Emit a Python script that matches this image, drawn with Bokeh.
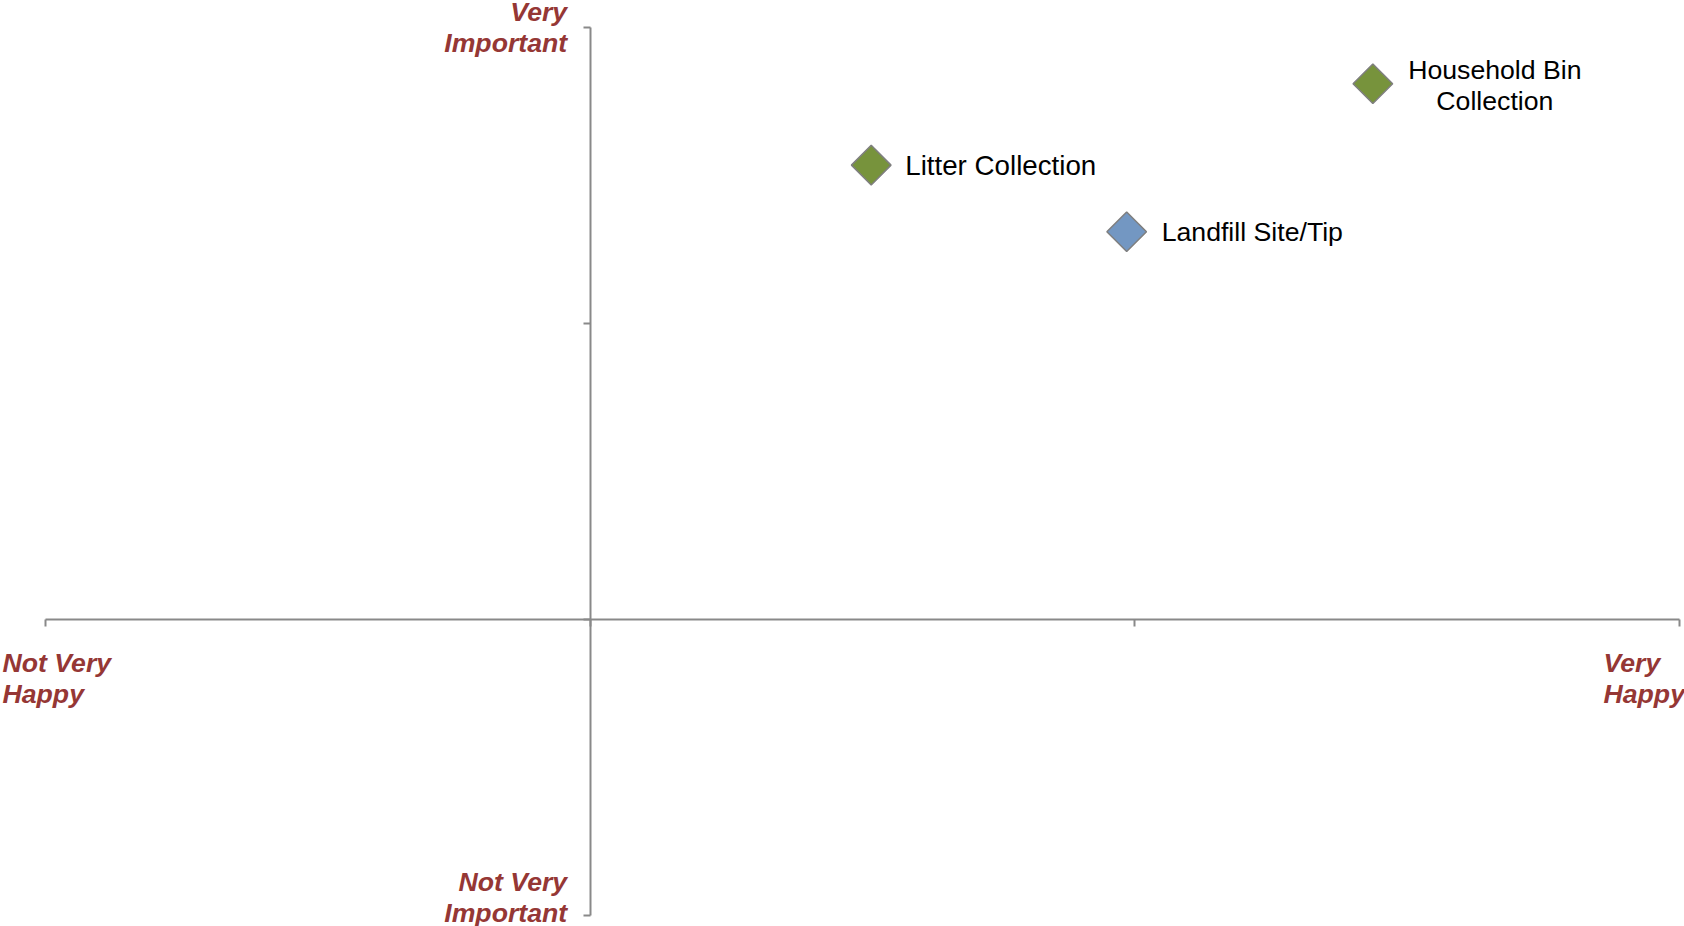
import numpy as np
from bokeh.plotting import figure
from bokeh.models import Range1d, FixedTicker, ColumnDataSource, Label
from bokeh.core.properties import value
from bokeh.embed import file_html
from bokeh.resources import INLINE

# ---- data ----
services = ["Litter Collection", "Household Bin\nCollection", "Landfill Site/Tip"]
happiness = [0.516, 1.437, 0.985]
importance = [1.535, 1.81, 1.31]
marker_colors = ["#77933C", "#77933C", "#7397C2"]

axis_ticks = [-1, 0, 1, 2]
top_label = "Very\nImportant"
bottom_label = "Not Very\nImportant"
left_label = "Not Very\nHappy"
right_label = "Very\nHappy"

FONT = "Liberation Sans"
RED = "#953735"
GREY = "#898989"

# the frame fills the whole canvas; ranges are padded so that the
# quadrant axes (-1..2) sit where they do in the reference
W, H = 1684, 926
sx = (1679 - 45) / 3.0
sy = (915 - 27) / 3.0
x0 = -1 - 45 / sx
x1 = x0 + W / sx
y0 = -1 - (H - 915) / sy
y1 = 2 + 27 / sy

p = figure(width=W, height=H, output_backend="svg", toolbar_location=None,
           x_range=Range1d(x0, x1), y_range=Range1d(y0, y1),
           x_axis_location="above", y_axis_location="right",
           min_border=0)
p.outline_line_color = None
p.xgrid.visible = False
p.ygrid.visible = False
p.background_fill_color = "white"
p.border_fill_color = "white"

for ax in (p.xaxis[0], p.yaxis[0]):
    ax.fixed_location = 0
    ax.bounds = (-1, 2)
    ax.ticker = FixedTicker(ticks=axis_ticks)
    ax.minor_tick_line_color = None
    ax.major_tick_line_color = GREY
    ax.major_tick_line_width = 2
    ax.axis_line_color = GREY
    ax.axis_line_width = 2
    ax.major_label_overrides = {t: "" for t in axis_ticks}
    ax.major_label_standoff = 0
    ax.major_label_text_font_size = "1px"
    # axes sit on the far side, so "in" ticks point down / left as in the reference
    ax.major_tick_in = 7
    ax.major_tick_out = 0

src = ColumnDataSource(dict(x=happiness, y=importance, c=marker_colors, name=services))
p.scatter("x", "y", source=src, marker="square", angle=np.pi / 4, size=28,
          fill_color="c", line_color="#7F7F7F", line_width=1.5)

# point labels
label_style = {"Litter Collection": (34, 0, "left", "20.8pt"),
               "Household Bin\nCollection": (122, 2, "center", "20pt"),
               "Landfill Site/Tip": (35, 0, "left", "20pt")}
for name, xv, yv in zip(services, happiness, importance):
    dx, dy, al, fs = label_style[name]
    p.text(x=[xv], y=[yv], text=[name], x_offset=dx, y_offset=dy,
           text_align=al, text_baseline="middle", text_font=value(FONT),
           text_font_size=fs, text_color="black", text_line_height=1.02)

# quadrant labels
quad = [
    (0, 2, top_label, -23, 0, "right"),
    (0, -1, bottom_label, -23, 18, "right"),
    (-1, 0, left_label, -43, -59, "left"),
    (2, 0, right_label, -76, -59, "left"),
]
for xv, yv, t, dx, dy, al in quad:
    p.add_layout(Label(x=xv, y=yv, text=t, x_offset=dx, y_offset=dy, text_align=al,
                       text_baseline="middle", text_font=FONT, text_font_size="20pt",
                       text_font_style="bold italic", text_color=RED,
                       text_line_height=1.05))

open("out.html", "w").write(file_html(p, INLINE))
